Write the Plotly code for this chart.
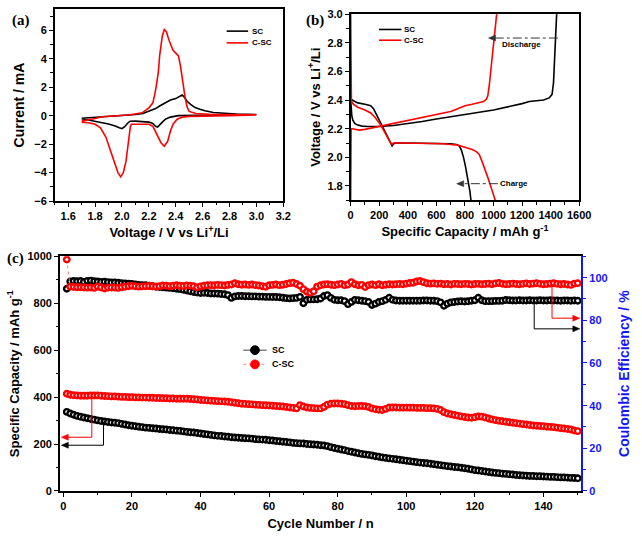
import plotly.graph_objects as go

# ---------------- data ----------------
# (a) cyclic voltammetry
sc_cv_v = [1.70, 1.75, 1.80, 1.84, 1.90, 2.00, 2.10, 2.156, 2.20, 2.25, 2.28, 2.32, 2.36, 2.40, 2.43, 2.447, 2.46, 2.483, 2.51, 2.544, 2.58, 2.617, 2.68, 2.75, 2.85, 3.00,
           2.80, 2.60, 2.50, 2.42, 2.36, 2.326, 2.30, 2.28, 2.265, 2.25, 2.229, 2.20, 2.15, 2.10, 2.06, 2.04, 2.02, 2.00, 1.98, 1.95, 1.90, 1.84, 1.80, 1.75, 1.70]
sc_cv_i = [-0.18, -0.15, -0.12, -0.10, -0.06, -0.02, 0.08, 0.16, 0.30, 0.50, 0.68, 0.90, 1.10, 1.20, 1.35, 1.45, 1.35, 1.03, 0.80, 0.57, 0.45, 0.34, 0.22, 0.16, 0.12, 0.08,
           0.04, 0.02, 0.01, 0.00, -0.10, -0.23, -0.45, -0.68, -0.80, -0.75, -0.55, -0.45, -0.40, -0.38, -0.39, -0.55, -0.78, -0.91, -0.85, -0.72, -0.58, -0.45, -0.38, -0.30, -0.22]
csc_cv_v = [1.70, 1.75, 1.80, 1.85, 1.95, 2.05, 2.15, 2.20, 2.23, 2.25, 2.27, 2.28, 2.30, 2.315, 2.33, 2.35, 2.38, 2.40, 2.42, 2.435, 2.45, 2.47, 2.485, 2.50, 2.55, 2.65, 2.80, 3.00,
            2.80, 2.60, 2.50, 2.45, 2.41, 2.38, 2.36, 2.34, 2.315, 2.29, 2.26, 2.23, 2.20, 2.15, 2.10, 2.07, 2.062, 2.055, 2.045, 2.03, 2.01, 1.99, 1.97, 1.94, 1.91, 1.88, 1.84, 1.80, 1.75, 1.70]
csc_cv_i = [-0.38, -0.30, -0.20, -0.07, -0.02, 0.05, 0.20, 0.55, 0.90, 1.80, 3.00, 4.20, 5.60, 6.05, 5.90, 5.30, 4.60, 4.40, 4.20, 3.50, 2.40, 1.26, 0.60, 0.30, 0.15, 0.10, 0.08, 0.06,
            0.00, -0.02, -0.05, -0.10, -0.25, -0.60, -1.10, -1.80, -2.15, -1.90, -1.30, -0.75, -0.60, -0.58, -0.58, -0.60, -0.80, -1.40, -2.30, -3.20, -4.00, -4.30, -4.00, -3.20, -2.30, -1.50, -0.85, -0.60, -0.50, -0.45]

# (b) charge / discharge profiles
sc_dis_cap = [0, 2, 10, 50, 100, 140, 160, 180, 200, 230, 260, 280, 290, 300, 320, 400, 500, 600, 700, 740, 760, 775, 790, 805, 820, 835, 842]
sc_dis_v = [2.42, 2.41, 2.40, 2.38, 2.37, 2.36, 2.34, 2.30, 2.26, 2.20, 2.13, 2.09, 2.08, 2.095, 2.10, 2.10, 2.10, 2.10, 2.095, 2.09, 2.08, 2.05, 2.00, 1.93, 1.85, 1.76, 1.70]
sc_chg_cap = [0, 3, 8, 15, 30, 50, 80, 120, 200, 300, 400, 500, 600, 700, 800, 900, 1000, 1100, 1200, 1250, 1300, 1350, 1390, 1410, 1420, 1428, 1435, 1442]
sc_chg_v = [2.40, 2.33, 2.29, 2.26, 2.235, 2.225, 2.218, 2.215, 2.215, 2.222, 2.235, 2.25, 2.268, 2.285, 2.30, 2.315, 2.33, 2.35, 2.375, 2.39, 2.395, 2.40, 2.415, 2.44, 2.52, 2.70, 2.88, 3.00]
csc_dis_cap = [0, 0, 5, 20, 50, 100, 140, 170, 200, 230, 260, 280, 290, 300, 350, 450, 550, 650, 700, 750, 800, 850, 880, 900, 920, 940, 960, 980, 1000, 1012]
csc_dis_v = [3.00, 2.60, 2.39, 2.37, 2.35, 2.33, 2.31, 2.28, 2.24, 2.19, 2.13, 2.10, 2.09, 2.10, 2.10, 2.10, 2.10, 2.095, 2.09, 2.085, 2.07, 2.055, 2.04, 2.02, 1.97, 1.92, 1.86, 1.80, 1.74, 1.70]
csc_chg_cap = [0, 0, 3, 10, 30, 60, 100, 150, 200, 300, 400, 500, 600, 700, 750, 800, 850, 900, 930, 950, 960, 970, 980, 990, 1000, 1010, 1022]
csc_chg_v = [1.70, 2.18, 2.20, 2.20, 2.195, 2.19, 2.195, 2.205, 2.215, 2.235, 2.255, 2.275, 2.295, 2.32, 2.34, 2.36, 2.37, 2.38, 2.39, 2.405, 2.43, 2.50, 2.60, 2.70, 2.80, 2.90, 3.00]

# (c) cycling
cycles = list(range(1, 151))
sc_cap = [337, 330, 325, 320, 316, 313, 310, 307, 304, 301,
          298, 296, 294, 292, 291, 289, 286, 283, 280, 278,
          276, 274, 272, 270, 269, 267, 266, 264, 263, 262,
          260, 259, 257, 256, 254, 252, 250, 249, 247, 245,
          243, 241, 239, 237, 235, 234, 232, 231, 229, 228,
          227, 226, 225, 224, 223, 221, 220, 219, 218, 216,
          215, 213, 212, 210, 209, 207, 205, 204, 203, 202,
          200, 199, 198, 197, 195, 194, 191, 187, 183, 180,
          177, 174, 170, 167, 164, 161, 158, 156, 154, 151,
          148, 146, 143, 141, 139, 137, 135, 133, 131, 129,
          127, 125, 123, 121, 119, 118, 116, 114, 112, 110,
          108, 106, 104, 102, 101, 99, 97, 95, 92, 89,
          87, 85, 83, 81, 79, 77, 76, 74, 73, 71,
          70, 68, 67, 66, 65, 64, 64, 63, 63, 62,
          61, 60, 60, 59, 58, 58, 57, 56, 55, 54]
csc_cap = [414, 410, 408, 407, 406, 406, 406, 407, 407, 407,
           406, 405, 404, 403, 403, 402, 401, 401, 400, 400,
           399, 399, 398, 398, 397, 397, 396, 396, 395, 395,
           394, 394, 393, 393, 393, 393, 392, 391, 390, 388,
           387, 386, 385, 384, 383, 382, 381, 380, 378, 376,
           374, 372, 371, 370, 369, 368, 367, 366, 365, 364,
           363, 362, 361, 360, 358, 356, 354, 352, 366, 360,
           356, 354, 353, 352, 352, 358, 368, 372, 373, 373,
           372, 370, 366, 362, 361, 362, 362, 361, 358, 352,
           348, 346, 345, 350, 356, 356, 356, 355, 355, 355,
           355, 355, 354, 354, 354, 353, 353, 352, 350, 345,
           336, 330, 327, 324, 321, 318, 315, 313, 312, 314,
           318, 317, 313, 309, 305, 302, 299, 297, 295, 293,
           291, 289, 287, 285, 283, 281, 279, 278, 277, 276,
           274, 273, 272, 270, 268, 266, 264, 262, 258, 255]
sc_ce = [94.8, 98.2, 98.4, 98.3, 98.4, 98.0, 98.5, 98.6, 98.3, 98.2,
         98.0, 98.1, 97.9, 97.7, 97.8, 97.6, 97.4, 97.3, 97.2, 97.0,
         96.8, 96.6, 96.5, 96.4, 96.2, 96.0, 95.8, 95.6, 95.5, 95.3,
         95.2, 95.0, 94.8, 94.6, 94.3, 94.0, 93.6, 93.3, 93.0, 92.8,
         92.9, 92.8, 92.6, 92.6, 92.5, 92.3, 92.2, 91.8, 90.5, 91.2,
         91.4, 91.4, 91.3, 91.3, 91.2, 91.2, 91.1, 91.1, 91.0, 91.0,
         90.9, 90.9, 90.8, 90.6, 90.4, 90.3, 90.4, 90.5, 91.0, 88.0,
         89.6, 89.8, 89.8, 89.9, 90.2, 91.4, 91.8, 90.5, 89.6, 89.4,
         89.4, 89.0, 87.6, 88.6, 89.6, 89.4, 89.2, 89.0, 88.6, 87.2,
         87.8, 88.6, 89.0, 89.6, 90.6, 89.6, 89.3, 89.2, 89.2, 89.2,
         89.2, 89.2, 89.2, 89.2, 89.3, 89.3, 89.2, 89.2, 89.0, 88.4,
         86.8, 87.8, 88.4, 88.6, 88.8, 88.9, 88.8, 88.9, 89.2, 89.4,
         90.6, 89.4, 89.0, 89.0, 89.0, 89.1, 89.1, 89.2, 89.5, 89.4,
         89.3, 89.3, 89.4, 89.3, 89.3, 89.4, 89.3, 89.3, 89.4, 89.3,
         89.3, 89.4, 89.3, 89.3, 89.2, 89.3, 89.3, 89.2, 89.3, 89.2]
csc_ce = [108.5, 95.8, 95.6, 95.5, 95.5, 95.4, 95.3, 95.4, 95.2, 95.8,
          95.4, 94.9, 95.3, 95.4, 95.3, 95.2, 95.5, 95.7, 96.0, 96.2,
          96.0, 95.8, 95.9, 96.0, 96.1, 96.0, 95.8, 96.0, 96.3, 96.2,
          96.0, 96.2, 96.4, 96.2, 96.1, 96.3, 96.2, 96.0, 95.4, 95.9,
          96.2, 96.4, 96.5, 96.4, 96.6, 96.5, 96.3, 96.6, 96.8, 97.4,
          96.9, 96.7, 96.8, 96.6, 96.8, 96.5, 96.3, 96.0, 95.7, 96.4,
          96.6, 96.8, 96.5, 96.7, 97.0, 97.4, 97.6, 97.0, 96.2, 94.6,
          93.4, 92.9, 93.6, 95.8, 96.4, 96.8, 96.9, 96.7, 96.5, 96.8,
          97.1, 96.5, 96.8, 97.9, 96.9, 96.4, 96.6, 95.6, 96.5, 96.8,
          96.5, 96.9, 96.4, 96.7, 96.9, 96.8, 96.9, 97.0, 96.9, 97.2,
          97.5, 97.6, 98.2, 98.4, 97.9, 97.4, 97.2, 97.3, 97.1, 97.2,
          96.9, 97.0, 96.8, 97.1, 97.0, 96.9, 97.1, 97.0, 96.8, 97.0,
          97.1, 96.9, 97.0, 97.2, 96.9, 97.3, 97.5, 97.1, 96.9, 97.0,
          97.2, 97.0, 96.9, 97.1, 97.3, 97.0, 97.2, 97.4, 97.1, 96.9,
          97.0, 97.2, 97.4, 97.1, 96.9, 97.0, 96.8, 96.6, 97.2, 97.4]

# ---------------- figure ----------------
W, H = 642, 540
BLACK = "#000000"
RED = "#ff0000"
BLUE = "#1414ff"
SANS = "Liberation Sans, Arial, sans-serif"
SERIF = "Liberation Serif, Times New Roman, serif"


def px(x):
    return x / W


def py(y):
    return 1 - y / H


fig = go.Figure()

# (a)
fig.add_trace(go.Scatter(x=sc_cv_v, y=sc_cv_i, mode="lines", line=dict(color=BLACK, width=1.6),
                         xaxis="x", yaxis="y", showlegend=False, name="SC"))
fig.add_trace(go.Scatter(x=csc_cv_v, y=csc_cv_i, mode="lines", line=dict(color=RED, width=1.6),
                         xaxis="x", yaxis="y", showlegend=False, name="C-SC"))
# (b)
for xs, ys, c in [(sc_dis_cap, sc_dis_v, BLACK), (sc_chg_cap, sc_chg_v, BLACK),
                  (csc_dis_cap, csc_dis_v, RED), (csc_chg_cap, csc_chg_v, RED)]:
    fig.add_trace(go.Scatter(x=xs, y=ys, mode="lines", line=dict(color=c, width=1.6),
                             xaxis="x2", yaxis="y2", showlegend=False))
# (c)
mk = lambda c: dict(symbol="circle", size=5.5, color="white", line=dict(color=c, width=2.4))
fig.add_trace(go.Scatter(x=cycles, y=sc_cap, mode="lines+markers", line=dict(color="#333333", width=1),
                         marker=mk(BLACK), xaxis="x3", yaxis="y3", showlegend=False, name="SC"))
fig.add_trace(go.Scatter(x=cycles, y=csc_cap, mode="lines+markers", line=dict(color="#ff8080", width=1, dash="dot"),
                         marker=mk(RED), xaxis="x3", yaxis="y3", showlegend=False, name="C-SC"))
fig.add_trace(go.Scatter(x=cycles, y=sc_ce, mode="lines+markers", line=dict(color="#333333", width=1),
                         marker=mk(BLACK), xaxis="x3", yaxis="y4", showlegend=False, name="SC CE"))
fig.add_trace(go.Scatter(x=cycles, y=csc_ce, mode="lines+markers", line=dict(color="#ff8080", width=1, dash="dot"),
                         marker=mk(RED), xaxis="x3", yaxis="y4", showlegend=False, name="C-SC CE"))

tickf = dict(family=SANS, size=11, color=BLACK, weight="bold")
titf = dict(family=SANS, size=13, color=BLACK, weight="bold")


def ax(**kw):
    base = dict(showline=True, linecolor=BLACK, linewidth=1.6, mirror=True, ticks="outside",
                ticklen=4, tickwidth=1.3, tickcolor=BLACK, showgrid=False, zeroline=False,
                tickfont=tickf, title_font=titf)
    base.update(kw)
    return base


fig.update_layout(
    width=W, height=H, margin=dict(l=0, r=0, t=0, b=0),
    paper_bgcolor="white", plot_bgcolor="white", showlegend=False,
    xaxis=ax(domain=[px(53), px(287)], range=[1.5, 3.2], dtick=0.2, tick0=1.6, tickformat=".1f",
             minor=dict(dtick=0.1, tick0=1.5, ticks="outside", ticklen=2.5, tickcolor=BLACK),
             anchor="y", title=dict(text="Voltage / V vs Li<sup>+</sup>/Li", standoff=7)),
    yaxis=ax(domain=[py(199.5), py(3)], range=[-6, 7.5], dtick=2, tick0=0,
             minor=dict(dtick=1, ticks="outside", ticklen=2.5, tickcolor=BLACK),
             anchor="x", title=dict(text="Current / mA", standoff=6,
                                    font=dict(family=SANS, size=14, color=BLACK, weight="bold"))),
    xaxis2=ax(domain=[px(356), px(590)], range=[0, 1600], dtick=200, tick0=0,
              minor=dict(dtick=100, ticks="outside", ticklen=2.5, tickcolor=BLACK),
              anchor="y2", title=dict(text="Specific Capacity / mAh g<sup>-1</sup>", standoff=7)),
    yaxis2=ax(domain=[py(198.7), py(8.3)], range=[1.7, 3.0], dtick=0.2, tick0=1.8, tickformat=".1f",
              minor=dict(dtick=0.1, tick0=1.7, ticks="outside", ticklen=2.5, tickcolor=BLACK),
              anchor="x2", title=dict(text="Voltage / V vs Li<sup>+</sup>/Li", standoff=4)),
    xaxis3=ax(domain=[px(58.3), px(592)], range=[-1, 151], dtick=20, tick0=0,
              minor=dict(dtick=10, ticks="outside", ticklen=2.5, tickcolor=BLACK),
              anchor="y3", title=dict(text="Cycle Number / n", standoff=8)),
    yaxis3=ax(domain=[py(496), py(256)], range=[0, 1000], dtick=200, tick0=0, mirror=False,
              minor=dict(dtick=100, ticks="outside", ticklen=2.5, tickcolor=BLACK),
              anchor="x3", title=dict(text="Specific Capacity / mAh g<sup>-1</sup>", standoff=5)),
    yaxis4=ax(overlaying="y3", side="right", anchor="x3", range=[0, 110], dtick=20, tick0=0,
              mirror=False, linecolor=BLUE, linewidth=2, tickcolor=BLUE,
              tickfont=dict(family=SANS, size=11, color=BLUE, weight="bold"),
              minor=dict(dtick=10, ticks="outside", ticklen=2.5, tickcolor=BLUE),
              title=dict(text="Coulombic Efficiency / %", standoff=12,
                         font=dict(family=SANS, size=14, color=BLUE, weight="bold"))),
)

shapes = []
ann = []


def text(t, x, y, font, xanchor="center"):
    ann.append(dict(text=t, x=px(x), y=py(y), xref="paper", yref="paper", showarrow=False,
                    xanchor=xanchor, yanchor="middle", font=font))


# panel labels
for t, x, y in [("(a)", 18, 15), ("(b)", 319, 15), ("(c)", 13, 258)]:
    text(t, x, y, dict(family=SERIF, size=15, color=BLACK, weight="bold"))

smallf = dict(family=SANS, size=8, color=BLACK, weight="bold")

# legend (a)
for c, t, yy in [(BLACK, "SC", 25.7), (RED, "C-SC", 37.7)]:
    shapes.append(dict(type="line", xref="paper", yref="paper", x0=px(229), x1=px(251), y0=py(yy), y1=py(yy),
                       line=dict(color=c, width=1.6)))
    text(t, 253, yy, smallf, "left")
# legend (b)
for c, t, yy in [(BLACK, "SC", 24), (RED, "C-SC", 35)]:
    shapes.append(dict(type="line", xref="paper", yref="paper", x0=px(385), x1=px(408), y0=py(yy), y1=py(yy),
                       line=dict(color=c, width=1.6)))
    text(t, 409, yy, smallf, "left")
# legend (c)
for c, lc, dash, t, yy in [(BLACK, "#444444", "solid", "SC", 352), (RED, "#ff9090", "dot", "C-SC", 366.5)]:
    shapes.append(dict(type="line", xref="paper", yref="paper", x0=px(246), x1=px(270), y0=py(yy), y1=py(yy),
                       line=dict(color=lc, width=1, dash=dash)))
    shapes.append(dict(type="circle", xref="paper", yref="paper", x0=px(253.5), x1=px(262.5),
                       y0=py(yy + 4.5), y1=py(yy - 4.5), fillcolor=c, line=dict(color=c, width=1)))
    text(t, 273, yy, dict(family=SANS, size=9, color=BLACK, weight="bold"), "left")


def head(xref, yref, x, y, color, direction):
    # small filled triangle, sized in pixels, anchored at its tip
    path = "M0,0 L7,3 L7,-3 Z" if direction == "left" else "M0,0 L-7,3 L-7,-3 Z"
    shapes.append(dict(type="path", xref=xref, yref=yref, xsizemode="pixel", ysizemode="pixel",
                       xanchor=x, yanchor=y, path=path, fillcolor=color, line=dict(color=color, width=0.5)))


# (b) Discharge / Charge arrows
dd = dict(color="#333333", width=1, dash="dashdot")
shapes.append(dict(type="line", xref="x2", yref="y2", x0=1450, x1=975, y0=2.833, y1=2.833, line=dd))
head("x2", "y2", 965, 2.833, "#333333", "left")
ann.append(dict(text="Discharge", x=1195, y=2.785, xref="x2", yref="y2", showarrow=False,
                xanchor="center", yanchor="middle", font=smallf))
shapes.append(dict(type="line", xref="x2", yref="y2", x0=1030, x1=752, y0=1.816, y1=1.816, line=dd))
head("x2", "y2", 742, 1.816, "#333333", "left")
ann.append(dict(text="Charge", x=1140, y=1.816, xref="x2", yref="y2", showarrow=False,
                xanchor="center", yanchor="middle", font=smallf))

# (c) axis-pointing arrows
for c, xv, ytop, ylev in [(RED, 8.3, 405, 229), (BLACK, 11.7, 296, 195)]:
    shapes.append(dict(type="line", xref="x3", yref="y3", x0=xv, x1=xv, y0=ytop, y1=ylev, line=dict(color=c, width=1)))
    shapes.append(dict(type="line", xref="x3", yref="y3", x0=xv, x1=0.5, y0=ylev, y1=ylev, line=dict(color=c, width=1)))
    head("x3", "y3", -0.6, ylev, c, "left")
for c, xv, ytop, ylev in [(RED, 142.5, 97, 81), (BLACK, 137.3, 89, 76)]:
    shapes.append(dict(type="line", xref="x3", yref="y4", x0=xv, x1=xv, y0=ytop, y1=ylev, line=dict(color=c, width=1)))
    shapes.append(dict(type="line", xref="x3", yref="y4", x0=xv, x1=149.5, y0=ylev, y1=ylev, line=dict(color=c, width=1)))
    head("x3", "y4", 150.6, ylev, c, "right")

fig.update_layout(shapes=shapes, annotations=ann)
fig.write_html("out.html")
